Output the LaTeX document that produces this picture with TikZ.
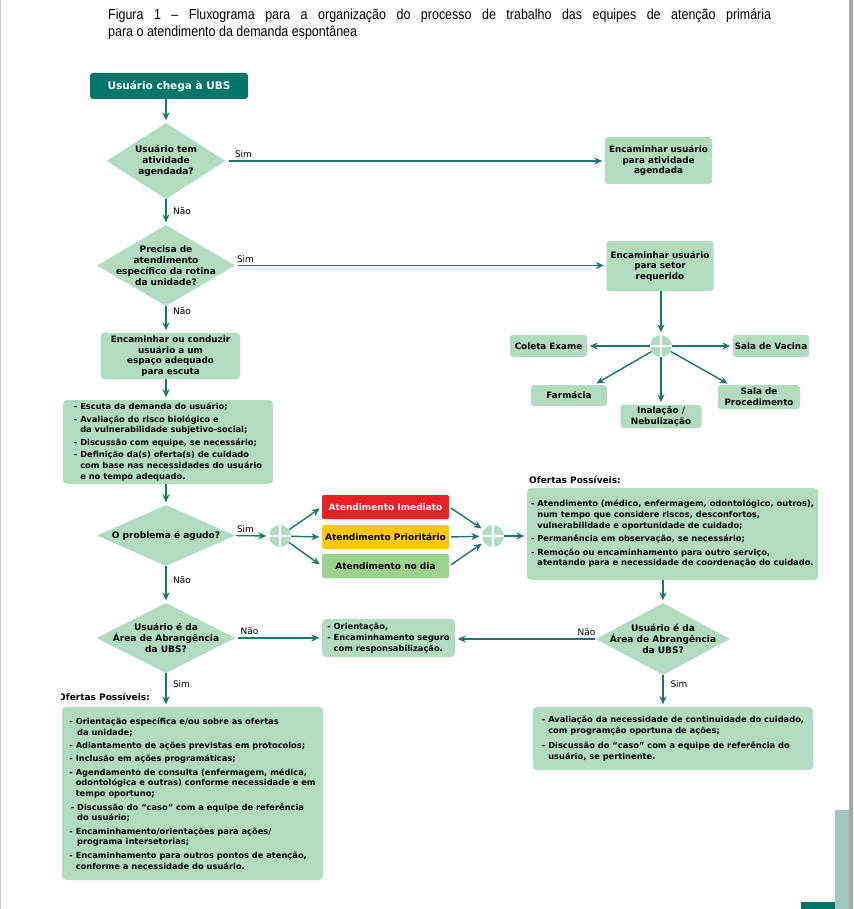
\documentclass[tikz,border=0pt]{standalone}
\usepackage{fontspec}
\setmainfont{DejaVu Sans}
\newfontfamily\titlefont[FakeStretch=0.86]{Liberation Sans}
\usetikzlibrary{shapes.geometric,arrows.meta,calc}
\definecolor{lgreen}{RGB}{178,220,191}
\definecolor{dteal}{RGB}{0,118,106}
\definecolor{lineteal}{RGB}{28,118,112}
\definecolor{redbox}{RGB}{232,32,40}
\definecolor{yelbox}{RGB}{255,198,10}
\definecolor{grnbox}{RGB}{156,210,142}
\definecolor{barlight}{RGB}{160,200,192}
\definecolor{edgegray}{RGB}{165,165,165}
\definecolor{edgelight}{RGB}{205,205,205}
\begin{document}
\begin{tikzpicture}[x=1pt,y=-1pt,
  sbox/.style={fill=lgreen, rounded corners=3pt, inner sep=1pt, align=center,
    font=\bfseries\fontsize{8.8}{10.6}\selectfont},
  lbox/.style={fill=lgreen, rounded corners=4pt, inner sep=1pt, align=left,
    font=\bfseries\fontsize{8.3}{10.8}\selectfont},
  dia/.style={diamond, fill=lgreen, inner sep=0pt},
  dtext/.style={align=center, inner sep=0pt, font=\bfseries\fontsize{9}{10.8}\selectfont},
  cbox/.style={rounded corners=2pt, inner sep=0pt, minimum width=127pt, minimum height=24pt,
    font=\bfseries\fontsize{9}{11}\selectfont},
  junc/.style={circle, fill=lgreen, minimum size=22pt, inner sep=0pt,
    path picture={\draw[white, line width=1.6pt]
      (path picture bounding box.north) -- (path picture bounding box.south)
      (path picture bounding box.west) -- (path picture bounding box.east);}},
  arr/.style={draw=lineteal, line width=1.4pt, -{Stealth[length=8pt,width=7pt]}, shorten >=2.5pt},
  lbl/.style={inner sep=0pt, font=\fontsize{9}{10}\selectfont},
  olbl/.style={inner sep=0pt, font=\bfseries\fontsize{9}{10}\selectfont},
]
\useasboundingbox (0,0) rectangle (853,909);
\fill[white] (0,0) rectangle (853,909);
\fill[edgelight] (0,0) rectangle (1.2,909);
\fill[edgegray] (849,0) rectangle (853,909);
\fill[barlight] (835,810) rectangle (849,909);
\fill[dteal] (801,902) rectangle (835,909);

% title
\node[anchor=base west, inner sep=0pt, font=\titlefont\fontsize{14.5}{17}\selectfont] (title1) at (108,20)
  {\makebox[663pt][s]{Figura 1 – Fluxograma para a organização do processo de trabalho das equipes de atenção primária}};
\node[anchor=base west, inner sep=0pt, font=\titlefont\fontsize{14.5}{17}\selectfont] (title2) at (108,37)
  {para o atendimento da demanda espontânea};

% start
\node[fill=dteal, rounded corners=3pt, minimum width=158pt, minimum height=26pt, inner sep=0pt,
  text=white, font=\bfseries\fontsize{10.5}{12}\selectfont] (start) at (169,86) {Usuário chega à UBS};

% diamonds
\node[dia, minimum width=119pt, minimum height=76pt] (d1) at (166,161) {};
\node[dtext] (d1t) at (d1.center) {Usuário tem\\atividade\\agendada?};
\node[dia, minimum width=138pt, minimum height=81pt] (d2) at (166,265.5) {};
\node[dtext] (d2t) at (d2.center) {Precisa de\\atendimento\\específico da rotina\\da unidade?};
\node[dia, minimum width=138pt, minimum height=61pt] (d3) at (166,535.5) {};
\node[dtext] (d3t) at (d3.center) {O problema é agudo?};
\node[dia, minimum width=139pt, minimum height=70pt] (d5) at (166,638) {};
\node[dtext] (d5t) at (d5.center) {Usuário é da\\Área de Abrangência\\da UBS?};
\node[dia, minimum width=134pt, minimum height=72pt] (d4) at (663,639) {};
\node[dtext] (d4t) at (d4.center) {Usuário é da\\Área de Abrangência\\da UBS?};

% right-top boxes
\node[sbox, minimum width=107pt, minimum height=47pt] (a1) at (658.5,160.5) {Encaminhar usuário\\para atividade\\agendada};
\node[sbox, minimum width=107pt, minimum height=50pt] (a2) at (660,266) {Encaminhar usuário\\para setor\\requerido};
\node[junc] (c1) at (661,346) {};
\node[sbox, minimum width=77pt, minimum height=22pt] (coleta) at (548.5,346) {Coleta Exame};
\node[sbox, minimum width=76pt, minimum height=22pt] (vacina) at (771,346) {Sala de Vacina};
\node[sbox, minimum width=76pt, minimum height=21pt] (farm) at (569,395.5) {Farmácia};
\node[sbox, minimum width=81pt, minimum height=23pt] (inal) at (661,416.5) {Inalação /\\Nebulização};
\node[sbox, minimum width=82pt, minimum height=24pt] (proc) at (759,397) {Sala de\\Procedimento};

% left column boxes
\node[sbox, minimum width=139pt, minimum height=46pt] (b) at (170.5,356) {Encaminhar ou conduzir\\usuário a um\\espaço adequado\\para escuta};
\node[lbox, minimum width=210pt, minimum height=84pt] (c) at (168,442) {%
- Escuta da demanda do usuário;\\[1.5pt]
- Avaliação do risco biológico e\\
\hphantom{- }da vulnerabilidade subjetivo-social;\\[1.5pt]
- Discussão com equipe, se necessário;\\[1.5pt]
- Definição da(s) oferta(s) de cuidado\\
\hphantom{- }com base nas necessidades do usuário\\
\hphantom{- }e no tempo adequado.};

% urgency boxes
\node[junc] (c2) at (280,536) {};
\node[cbox, fill=redbox, text=white] (red) at (385.5,507) {Atendimento Imediato};
\node[cbox, fill=yelbox] (yel) at (385.5,537) {Atendimento Prioritário};
\node[cbox, fill=grnbox] (grn) at (385.5,566) {Atendimento no dia};
\node[junc] (c3) at (493,536) {};

\node[olbl, anchor=west] (of1) at (529,480) {Ofertas Possíveis:};
\node[lbox, minimum width=291pt, minimum height=92pt] (D) at (672.5,534) {%
- Atendimento (médico, enfermagem, odontológico, outros),\\
\hphantom{- }num tempo que considere riscos, desconfortos,\\
\hphantom{- }vulnerabilidade e oportunidade de cuidado;\\[2.5pt]
- Permanência em observação, se necessário;\\[2.5pt]
- Remoção ou encaminhamento para outro serviço,\\
\hphantom{- }atentando para e necessidade de coordenação do cuidado.};

\node[lbox, minimum width=133pt, minimum height=38pt] (E) at (388.5,638) {%
- Orientação,\\
- Encaminhamento seguro\\
\hphantom{- }com responsabilização.};

\begin{scope}
\clip (61,685) rectangle (300,705);
\node[olbl, anchor=east] (of2) at (150,697) {Ofertas Possíveis:};
\end{scope}
\node[lbox, minimum width=261pt, minimum height=173pt] (F) at (192.5,793.5) {%
- Orientação específica e/ou sobre as ofertas\\
\hphantom{- }\,da unidade;\\[2.5pt]
- Adiantamento de ações previstas em protocolos;\\[2.5pt]
- Inclusão em ações programáticas;\\[2.5pt]
- Agendamento de consulta (enfermagem, médica,\\
\hphantom{- }odontológica e outras) conforme necessidade e em\\
\hphantom{- }tempo oportuno;\\[2.5pt]
\,- Discussão do “caso” com a equipe de referência\\
\hphantom{- }\,do usuário;\\[2.5pt]
- Encaminhamento/orientações para ações/\\
\hphantom{- }\,programa intersetorias;\\[2.5pt]
- Encaminhamento para outros pontos de atenção,\\
\hphantom{- }conforme a necessidade do usuário.};

\node[lbox, minimum width=280pt, minimum height=63pt] (G) at (673,738.5) {%
- Avaliação da necessidade de continuidade do cuidado,\\
\hphantom{- }com programção oportuna de ações;\\[4pt]
- Discussão do “caso” com a equipe de referência do\\
\hphantom{- }usuário, se pertinente.};

% connectors
\draw[arr] (d1.north |- start.south) -- (d1.north);
\draw[arr, shorten <=3pt] (d1.east) -- (d1.east -| a1.west);
\draw[arr] (d1.south) -- (d2.north);
\draw[arr, shorten <=3pt] (d2.east) -- (d2.east -| a2.west);
\draw[arr] (c1.north |- a2.south) -- (c1.north);
\draw[arr] (c1) -- (coleta.east);
\draw[arr] (c1) -- (vacina.west);
\draw[arr] (c1) -- ($(farm.north east)+(-13,0)$);
\draw[arr] (c1) -- (inal.north);
\draw[arr] (c1) -- ($(proc.north west)+(12,0)$);
\draw[arr] (d2.south) -- (d2.south |- b.north);
\draw[arr] (d2.south |- b.south) -- (d2.south |- c.north);
\draw[arr] (d3.north |- c.south) -- (d3.north);
\draw[arr, shorten <=1pt] (d3.east) -- (c2.west);
\draw[arr] (c2) -- (red.west);
\draw[arr] (c2) -- (yel.west);
\draw[arr] (c2) -- (grn.west);
\draw[arr, shorten <=2pt] (red.east) -- (c3);
\draw[arr, shorten <=2pt] (yel.east) -- (c3);
\draw[arr, shorten <=2pt] (grn.east) -- (c3);
\draw[arr] (c3.east) -- (c3.east -| D.west);
\draw[arr] (d4.north |- D.south) -- (d4.north);
\draw[arr, shorten <=1pt] (d4.west) -- (d4.west -| E.east);
\draw[arr] (d3.south) -- (d5.north);
\draw[arr, shorten <=2pt] (d5.east) -- (d5.east -| E.west);
\draw[arr] (d5.south) -- (d5.south |- F.north);
\draw[arr] (d4.south) -- (d4.south |- G.north);

% labels
\node[lbl] (s1) at (243.5,154) {Sim};
\node[lbl] (n1) at (182,211) {Não};
\node[lbl] (s2) at (245.5,259) {Sim};
\node[lbl] (n2) at (182,311) {Não};
\node[lbl] (s3) at (245.5,529) {Sim};
\node[lbl] (n3) at (182,580) {Não};
\node[lbl] (n5) at (249.5,631) {Não};
\node[lbl] (n4) at (586.5,632) {Não};
\node[lbl] (s5) at (181.5,684) {Sim};
\node[lbl] (s4) at (679,684) {Sim};
\end{tikzpicture}
\end{document}
